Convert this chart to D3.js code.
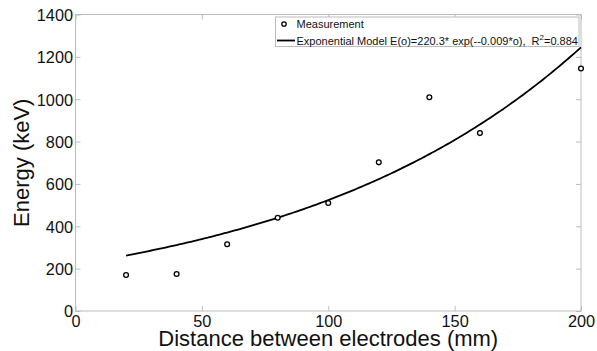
<!DOCTYPE html>
<html><head><meta charset="utf-8">
<script src="https://cdn.jsdelivr.net/npm/d3@7"></script>
<style>body{margin:0;background:#fff}svg{display:block}text{font-family:"Liberation Sans",Arial,sans-serif}</style>
</head><body><svg id="c" width="597" height="351"></svg>
<script>
const distances = [20, 40, 60, 80, 100, 120, 140, 160, 200];
const energies = [170, 175, 315, 440, 510, 702, 1009, 840, 1145];
const xTicks = [0, 50, 100, 150, 200];
const yTicks = [0, 200, 400, 600, 800, 1000, 1200, 1400];
const modelA = 220.3, modelB = 0.00866;
const modelRange = [20, 200];
const legendLabels = ["Measurement", "Exponential Model E(o)=220.3* exp(--0.009*o),  R", "2", "=0.884"];

const svg = d3.select("#c");
const L = 75.5, R = 581, T = 14.5, B = 311;
const x = d3.scaleLinear().domain([0, 200]).range([L, R]);
const y = d3.scaleLinear().domain([0, 1400]).range([B, T]);
const grey = "#bcbcbc", tickLen = 5;

// box
svg.append("rect").attr("x", L).attr("y", T).attr("width", R - L).attr("height", B - T)
  .attr("fill", "none").attr("stroke", grey).attr("stroke-width", 1);

// axes
const xb = svg.append("g").attr("transform", `translate(0,${B})`)
  .call(d3.axisBottom(x).tickValues(xTicks).tickSize(-tickLen).tickPadding(7).tickFormat(d3.format("d")));
const xt = svg.append("g").attr("transform", `translate(0,${T})`)
  .call(d3.axisTop(x).tickValues(xTicks).tickSize(-tickLen).tickFormat(""));
const yl = svg.append("g").attr("transform", `translate(${L},0)`)
  .call(d3.axisLeft(y).tickValues(yTicks).tickSize(-tickLen).tickPadding(3).tickFormat(d3.format("d")));
const yr = svg.append("g").attr("transform", `translate(${R},0)`)
  .call(d3.axisRight(y).tickValues(yTicks).tickSize(-tickLen).tickFormat(""));
[xb, xt, yl, yr].forEach(g => {
  g.select(".domain").remove();
  g.selectAll(".tick line").attr("stroke", grey);
  g.selectAll("text").attr("fill", "#111").style("font-size", "16.3px").style("font-family", '"Liberation Sans",Arial,sans-serif');
});
xb.selectAll("text").attr("dy", null).attr("y", 15.5);
yl.selectAll("text").attr("x", -2.5).attr("dy", "0.36em");

// axis titles
svg.append("text").attr("x", (L + R) / 2).attr("y", 345.5).attr("text-anchor", "middle")
  .style("font-size", "22px").attr("fill", "#111").text("Distance between electrodes (mm)");
svg.append("text").attr("transform", `translate(29,${(T + B) / 2}) rotate(-90)`).attr("text-anchor", "middle")
  .style("font-size", "22px").attr("fill", "#111").text("Energy (keV)");

// model curve
const xs = d3.range(modelRange[0], modelRange[1] + 0.001, 1);
svg.append("path").datum(xs)
  .attr("d", d3.line().x(d => x(d)).y(d => y(modelA * Math.exp(modelB * d))))
  .attr("fill", "none").attr("stroke", "#000").attr("stroke-width", 1.8);

// points
svg.append("g").selectAll("circle").data(distances).join("circle")
  .attr("cx", (d) => x(d)).attr("cy", (d, i) => y(energies[i])).attr("r", 2.4)
  .attr("fill", "#fff").attr("stroke", "#000").attr("stroke-width", 1.3);

// legend
const lg = svg.append("g");
lg.append("rect").attr("x", 275.5).attr("y", 17).attr("width", 303.5).attr("height", 29.5)
  .attr("fill", "#fff").attr("stroke", grey).attr("stroke-width", 1);
lg.append("circle").attr("cx", 284).attr("cy", 24).attr("r", 2.2).attr("fill", "#fff").attr("stroke", "#000").attr("stroke-width", 1.3);
lg.append("line").attr("x1", 277).attr("x2", 295).attr("y1", 40.5).attr("y2", 40.5).attr("stroke", "#000").attr("stroke-width", 1.8);
lg.append("text").attr("x", 296.5).attr("y", 27.8).style("font-size", "11px").attr("fill", "#111").text(legendLabels[0]);
const t2 = lg.append("text").attr("x", 296.5).attr("y", 44.5).style("font-size", "11px").attr("fill", "#111").attr("xml:space", "preserve");
t2.append("tspan").text(legendLabels[1]);
t2.append("tspan").attr("dy", -4.5).style("font-size", "8px").text(legendLabels[2]);
t2.append("tspan").attr("dy", 4.5).text(legendLabels[3]);
</script></body></html>
